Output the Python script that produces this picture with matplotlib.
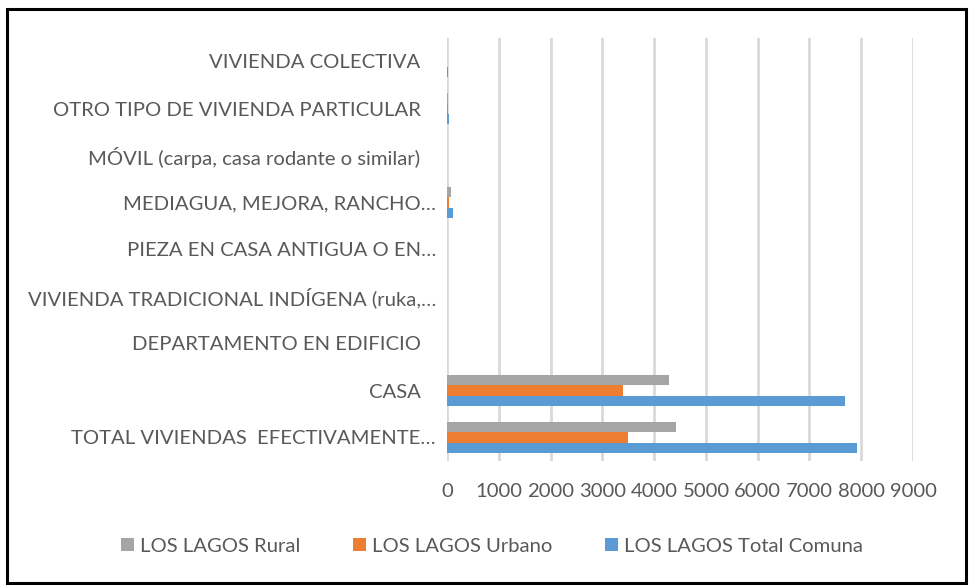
import matplotlib
matplotlib.use("Agg")
import matplotlib.pyplot as plt
from matplotlib.patches import Rectangle
import numpy as np

# Categories, bottom to top (as drawn by the bar chart)
categorias = [
    "TOTAL VIVIENDAS  EFECTIVAMENTE…",
    "CASA",
    "DEPARTAMENTO EN EDIFICIO",
    "VIVIENDA TRADICIONAL INDÍGENA (ruka,…",
    "PIEZA EN CASA ANTIGUA O EN…",
    "MEDIAGUA, MEJORA, RANCHO…",
    "MÓVIL (carpa, casa rodante o similar)",
    "OTRO TIPO DE VIVIENDA PARTICULAR",
    "VIVIENDA COLECTIVA",
]

total_comuna = [7910, 7690, 4, 2, 3, 125, 0, 40, 15]
urbano = [3500, 3400, 3, 0, 2, 45, 0, 10, 8]
rural = [4415, 4290, 1, 2, 1, 80, 0, 20, 6]

series = ["LOS LAGOS Total Comuna", "LOS LAGOS Urbano", "LOS LAGOS Rural"]
colores = ["#5B9BD5", "#ED7D31", "#A5A5A5"]
xticks = list(range(0, 9001, 1000))

texto = "#595959"
fs = 14.6
plt.rcParams["font.family"] = ["Lato", "DejaVu Sans"]

W, H = 969, 587
fig = plt.figure(figsize=(W / 100, H / 100), dpi=100)
ax = fig.add_axes([447 / W, (H - 461) / H, (913 - 447) / W, (461 - 38) / H])

y = np.arange(len(categorias))
h = 0.213
barras = []
for i, (vals, c) in enumerate(zip([total_comuna, urbano, rural], colores)):
    b = ax.barh(y + (i - 1) * h, vals, height=h, color=c, label=series[i], zorder=3)
    barras.append(b)

ax.set_xlim(0, 9000)
ax.set_ylim(-0.5, len(categorias) - 0.5)
ax.set_xticks(xticks)
ax.set_xticklabels([str(v) for v in xticks], fontsize=fs, color=texto)
ax.set_yticks(y)
# Excel leaves a bit more room after the labels that are not cut short
etiquetas = [c if c.endswith("…") else c + "   " for c in categorias]
ax.set_yticklabels(etiquetas, fontsize=fs, color=texto)
ax.tick_params(axis="both", length=0)
ax.tick_params(axis="x", pad=16)
ax.tick_params(axis="y", pad=8)
ax.grid(axis="x", color="#D9D9D9", lw=2, zorder=0)
for s in ax.spines.values():
    s.set_visible(False)

handles = barras[::-1]
fig.legend(handles, [series[2], series[1], series[0]], loc="center",
           bbox_to_anchor=(492 / W, (H - 546) / H), ncol=3, frameon=False,
           fontsize=fs, labelcolor=texto, handlelength=0.64, handleheight=0.64,
           handletextpad=0.3, columnspacing=2.6)

# outer frame
fig.patches.append(Rectangle((7 / W, 4 / H), (966 - 7) / W, (578 - 4) / H,
                             transform=fig.transFigure, fill=False,
                             edgecolor="black", lw=2.2))

fig.savefig("out.png", dpi=100)
